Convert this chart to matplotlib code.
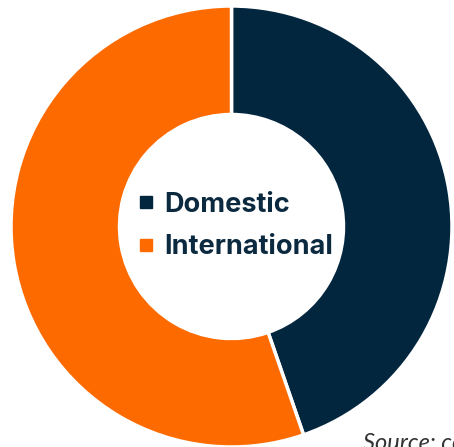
import matplotlib.pyplot as plt
from matplotlib.lines import Line2D

# Share of students, domestic vs international
labels = ["Domestic", "International"]
shares = [44.7, 55.3]
colors = ["#03263f", "#fc6a00"]

W, H = 454, 447
fig = plt.figure(figsize=(W / 100, H / 100), dpi=100)
ax = fig.add_axes([0, 0, 1, 1])

cx, cy, r = 231.5, H - 226.5, 220.5
ax.pie(shares, colors=colors, startangle=90, counterclock=False,
       center=(cx, cy), radius=r, frame=True,
       wedgeprops=dict(width=r - 112, edgecolor="white", linewidth=2.5))
ax.set_xlim(0, W)
ax.set_ylim(0, H)
ax.set_aspect("equal")
ax.axis("off")

handles = [Line2D([], [], ls="", marker="s", markersize=8.5, color=c) for c in colors]
leg = ax.legend(handles, labels, loc="center", bbox_to_anchor=(235 / W, 1 - 226 / H),
                frameon=False, handletextpad=0.3, labelspacing=0.6, handlelength=0.7,
                prop=dict(family="Inter", weight="bold", size=19.5))
for t in leg.get_texts():
    t.set_color("#0b2a40")

fig.text(363 / W, 1 - 450 / H, "Source: company data", fontsize=17, style="italic",
         color="#333333", ha="left", va="baseline", family="Lato")

fig.savefig("out.png", dpi=100)
